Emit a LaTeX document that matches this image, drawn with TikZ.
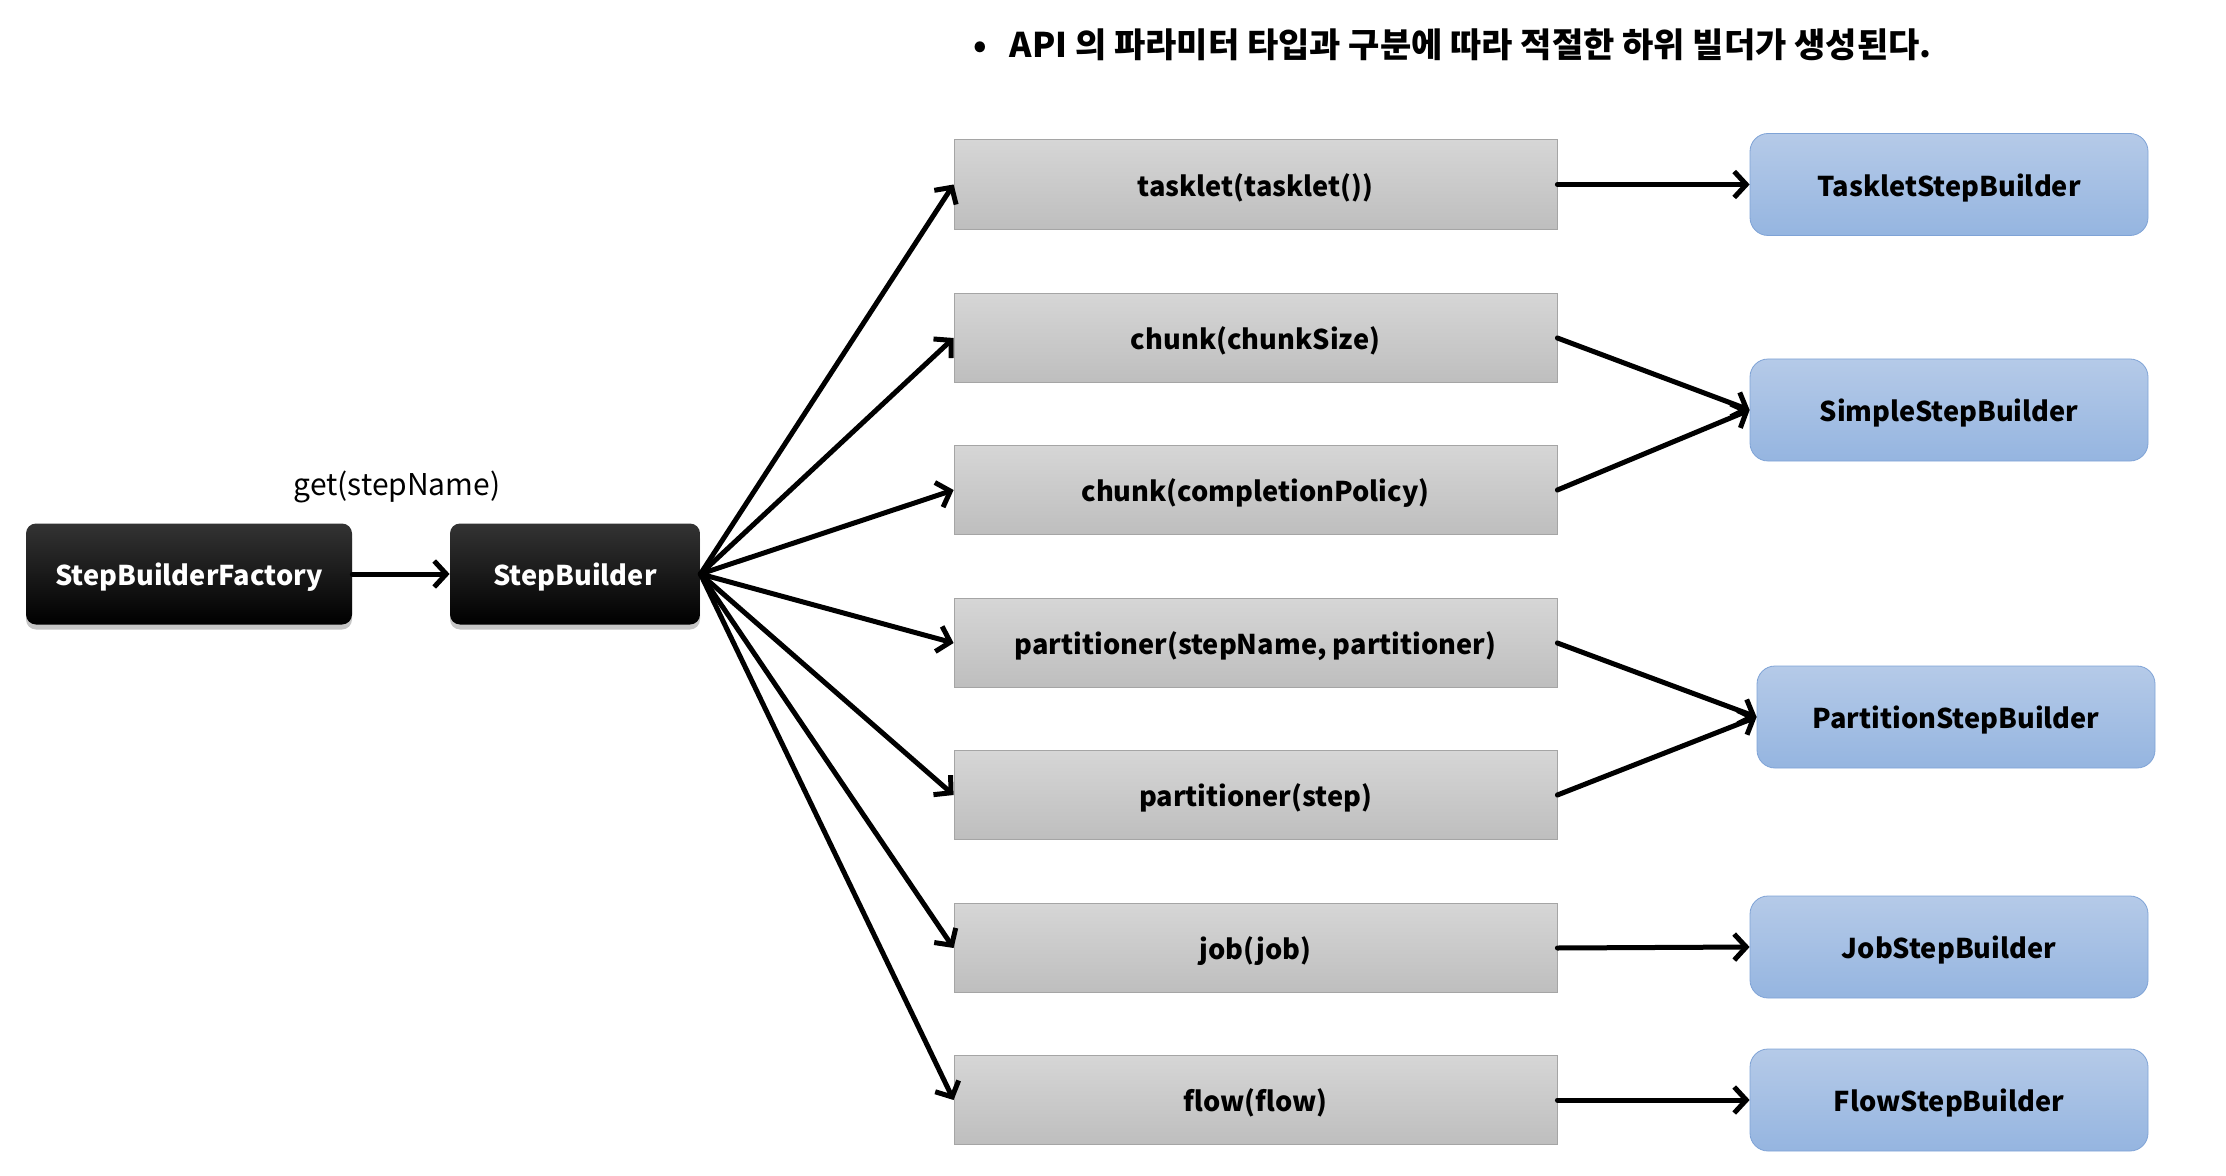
\documentclass[tikz,border=0pt]{standalone}
\usepackage{fontspec}
\setmainfont{Noto Sans CJK KR}
\usetikzlibrary{arrows.meta,shadows}
\definecolor{gtop}{HTML}{D6D6D6}
\definecolor{gbot}{HTML}{BEBEBE}
\definecolor{gborder}{HTML}{A5A5A5}
\definecolor{btop}{HTML}{B5CAE8}
\definecolor{bbot}{HTML}{95B5E0}
\definecolor{bborder}{HTML}{7FA3D6}
\begin{document}
\begin{tikzpicture}[x=0.5pt,y=-0.5pt,
  txt/.style={font=\bfseries\fontsize{13.6}{16}\selectfont, text height=13.6pt, text depth=2pt},
  blk/.style={txt, rounded corners=5pt, top color=black!80, bottom color=black, draw=none, text=white,
    minimum height=50.5pt, inner sep=0pt,
    drop shadow={shadow xshift=0pt, shadow yshift=-2.5pt, opacity=0.45}},
  gbox/.style={txt, rectangle, draw=gborder, top color=gtop, bottom color=gbot,
    minimum width=301.5pt, minimum height=44.7pt, inner sep=0pt},
  bbox/.style={txt, rounded corners=9pt, draw=bborder, top color=btop, bottom color=bbot,
    minimum width=199pt, minimum height=51pt, inner sep=0pt},
  arr/.style={line width=2.5pt, line cap=round, -{Straight Barb[length=6pt,width=13pt]}}]
\useasboundingbox (0,0) rectangle (2226,1176);

\node[anchor=west, font=\bfseries\fontsize{17}{20}\selectfont] (title) at (966,45) {•\hspace{0.68em}API 의 파라미터 타입과 구분에 따라 적절한 하위 빌더가 생성된다.};

\node[blk, minimum width=163pt] (sbf) at (189,574) {StepBuilderFactory};
\node[blk, minimum width=125pt] (sb) at (575,574) {StepBuilder};
\node[font=\fontsize{15}{18}\selectfont] (get) at (397,487) {get(stepName)};

\node[gbox] (g1) at (1255.5,184.5) {tasklet(tasklet())};
\node[gbox] (g2) at (1255.5,338) {chunk(chunkSize)};
\node[gbox] (g3) at (1255.5,490) {chunk(completionPolicy)};
\node[gbox] (g4) at (1255.5,643) {partitioner(stepName, partitioner)};
\node[gbox] (g5) at (1255.5,795) {partitioner(step)};
\node[gbox] (g6) at (1255.5,948) {job(job)};
\node[gbox] (g7) at (1255.5,1100) {flow(flow)};

\node[bbox] (b1) at (1949,184.5) {TaskletStepBuilder};
\node[bbox] (b2) at (1949,410) {SimpleStepBuilder};
\node[bbox] (b3) at (1956,717) {PartitionStepBuilder};
\node[bbox] (b4) at (1949,947) {JobStepBuilder};
\node[bbox] (b5) at (1949,1100) {FlowStepBuilder};

\draw[arr] (sbf.east) -- (sb.west);
\foreach \g in {g1,g2,g3,g4,g5,g6,g7} \draw[arr] (sb.east) -- (\g.west);
\draw[arr] (g1.east) -- (b1.west);
\draw[arr] (g2.east) -- (b2.west);
\draw[arr] (g3.east) -- (b2.west);
\draw[arr] (g4.east) -- (b3.west);
\draw[arr] (g5.east) -- (b3.west);
\draw[arr] (g6.east) -- (b4.west);
\draw[arr] (g7.east) -- (b5.west);
\end{tikzpicture}
\end{document}
